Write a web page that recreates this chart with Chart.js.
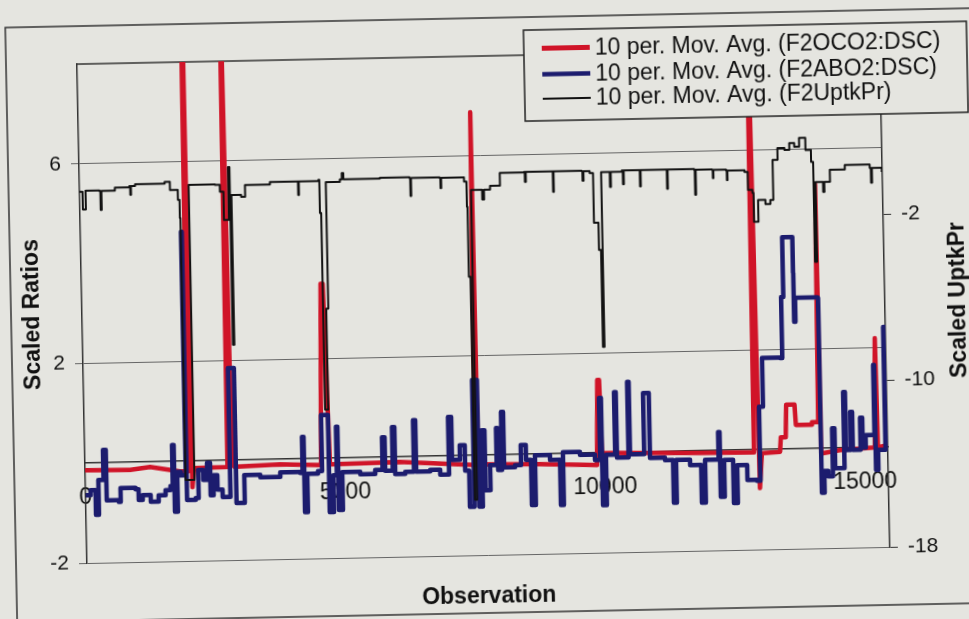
<!DOCTYPE html>
<html>
<head>
<meta charset="utf-8">
<script src="https://cdn.jsdelivr.net/npm/chart.js@4/dist/chart.umd.min.js"></script>
<style>
html,body{margin:0;padding:0;width:969px;height:619px;overflow:hidden;background:#e5e5e0;}
#wrap{position:absolute;left:-20px;top:-20px;width:1009px;height:659px;transform:rotate(-1.15deg);transform-origin:50% 50%;}
canvas{display:block;}
</style>
</head>
<body>
<div id="wrap"><canvas id="c" width="1009" height="659"></canvas></div>
<script>
// ---- tick labels ----
const obsTicks = [0, 5000, 10000, 15000];
const ratioTicks = [-2, 2, 6];
const uptkTicks = [-18, -10, -2];

// ---- series labels ----
const seriesNames = [
  '10 per. Mov. Avg. (F2OCO2:DSC)',
  '10 per. Mov. Avg. (F2ABO2:DSC)',
  '10 per. Mov. Avg. (F2UptkPr)'
];

// ---- F2OCO2:DSC moving average (left axis) ----
const oco2Obs = [0,866,1251,1822,1990,2030,2059,2097,2740,2770,2830,2870,3752,4540,4600,4640,4712,6061,7500,7545,7565,7610,8754,9850,9885,9920,9950,10870,11832,12874,12902,12975,13025,13375,13395,13490,13510,13670,13690,13990,14000,14120,14150,14165,14526,15200,15240,15260,15440];
const oco2Val = [-0.14,-0.15,-0.1,-0.2,-0.2,14,-0.52,-0.14,-0.13,11,0.0,-0.13,-0.1,-0.13,3.5,3.5,-0.12,-0.1,-0.19,6.88,-0.86,-0.18,-0.2,-0.24,1.46,1.46,0.0,-0.02,-0.04,-0.05,10,-0.77,-0.07,-0.05,0.24,0.24,0.89,0.89,0.48,0.48,0.53,0.53,5.3,-0.1,-0.04,0.0,2.19,0.0,0.04];

// ---- F2ABO2:DSC moving average (left axis) ----
const abo2Obs = [0,96,192,250,350,404,635,673,962,1020,1097,1251,1404,1539,1635,1680,1712,1770,1840,1935,1950,2116,2174,2270,2347,2405,2463,2540,2636,2719,2786,2880,2900,3001,3059,3367,3752,4137,4183,4214,4271,4479,4558,4673,4690,4772,4841,4868,4945,5291,5580,5722,5772,5918,5964,6157,6326,6368,6638,6830,7000,7061,7215,7311,7388,7477,7554,7570,7638,7696,7792,7919,7946,8021,8061,8273,8388,8485,8581,8658,8947,9139,9197,9524,9812,9912,9949,10024,10203,10236,10459,10488,10761,10838,10871,11159,11313,11371,11640,11852,11929,12190,12218,12295,12468,12545,12737,12921,12987,13064,13410,13454,13497,13689,13693,13697,13722,14145,14165,14218,14295,14384,14430,14610,14645,14738,14776,14926,14968,15026,15132,15198,15215,15261,15405,15440];
const abo2Val = [-0.64,-0.54,-1.04,-0.34,0.26,-0.75,-0.79,-0.51,-0.54,-0.76,-0.66,-0.8,-0.67,-0.57,-0.49,0.33,-1.01,-0.21,-0.28,4.6,-0.78,-0.74,-0.18,-0.38,-0.04,-0.69,-0.29,-0.58,-0.73,-0.73,1.85,1.85,-0.86,-0.86,-0.3,-0.35,-0.26,-0.28,0.44,-1.07,-0.3,-0.25,0.87,0.87,-1.08,-0.34,0.63,-1.04,-0.28,-0.33,-0.25,0.4,-0.27,0.6,-0.34,-0.3,0.73,-0.3,-0.27,-0.37,0.78,-0.08,0.21,-0.3,-1.03,1.51,1.51,-1.03,0.5,-0.7,-0.2,0.54,-0.3,0.86,-0.25,-0.21,0.19,-0.11,-1.02,-0.02,-0.12,-1.03,0.03,-0.03,-0.14,1.1,-1.05,-0.04,1.21,-0.1,1.41,-0.04,1.18,1.18,-0.12,-0.17,-1.03,-0.17,-0.28,-1.04,-0.18,0.37,-0.93,-0.19,-1.06,-0.3,-0.6,-0.62,0.86,1.84,1.83,3.05,4.25,4.25,3.53,2.55,3.03,3.02,-0.89,-0.45,-0.56,0.4,-0.4,1.12,-0.04,0.72,-0.04,0.6,0.0,0.25,0.25,1.65,-0.45,-0.05,2.41,0.14];

// ---- F2UptkPr moving average (right axis) ----
const uptkObs = [0,58,115,380,400,420,680,960,975,990,1070,1640,1740,1889,1920,1930,2100,2607,2700,2767,2863,2892,2920,3107,3184,3665,4190,4205,4220,4600,4616,4640,4700,4740,5012,5050,5080,5782,6350,6365,6380,6930,6945,6960,7400,7446,7457,7488,7530,7744,7780,7898,8090,8560,8571,8590,9100,9110,9125,9668,9680,9700,9820,9884,9970,10009,10040,10206,10225,10440,10457,10475,10770,10784,10800,11290,11304,11320,11830,11842,11860,12175,12188,12200,12445,12457,12470,12800,12860,12943,12964,13049,13190,13285,13343,13440,13575,13670,13765,13860,13980,14084,14122,14160,14305,14330,14440,14730,15209,15230,15250,15440];
const uptkVal = [-0.15,-1.0,-0.1,-0.12,-1.03,-0.12,0.02,0.09,-0.34,0.09,0.17,0.25,-0.14,-0.63,-1.5,-14.1,0.08,0.06,-0.28,-1.63,0.9,-7.65,-0.44,-0.54,0.03,0.15,0.15,-0.5,0.15,0.2,-1.39,-10.86,-6.0,0.09,0.2,0.51,0.2,0.24,0.2,-0.66,0.2,0.18,-0.31,0.18,-0.02,-1.24,-4.61,-15.33,-0.43,-0.9,-0.43,-0.25,0.36,0.38,-0.1,0.38,0.38,-0.6,0.38,0.36,-0.1,0.36,0.27,-2.13,-3.44,-8.1,0.3,-0.42,0.3,0.36,-0.3,0.36,0.36,-0.42,0.36,0.36,-0.56,0.36,0.32,-0.88,0.32,0.3,-0.1,0.3,0.25,-0.2,0.25,0.17,-0.7,-0.84,-2.24,-1.19,-1.4,-1.2,0.72,1.29,1.19,1.52,1.33,1.75,1.17,0.59,-4.22,-0.38,-0.87,-0.38,0.19,0.41,0.24,-0.47,0.24,0.04];

const rightTitle = 'Scaled UptkPr';
const PAPER = '#e5e5e0';
const FONT = "'Liberation Sans', Arial, Helvetica, sans-serif";
Chart.defaults.font.family = FONT;

function pts(xs, ys){ return xs.map((x,i)=>({x:x, y:ys[i]})); }

const paperPlugin = {
  id:'paper',
  beforeDraw(chart){
    const ctx = chart.ctx;
    ctx.save();
    ctx.fillStyle = PAPER;
    ctx.fillRect(0,0,chart.width,chart.height);
    ctx.strokeStyle = '#333'; ctx.lineWidth = 1.5;
    ctx.beginPath();
    ctx.moveTo(1020,38); ctx.lineTo(31,38); ctx.lineTo(31,633); ctx.lineTo(1020,633);
    ctx.stroke();
    ctx.restore();
  },
  beforeDatasetsDraw(chart){
    const a = chart.chartArea, ctx = chart.ctx;
    ctx.save();
    ctx.strokeStyle = '#333'; ctx.lineWidth = 1.5;
    ctx.beginPath(); ctx.moveTo(a.left, a.top); ctx.lineTo(a.right, a.top); ctx.stroke();
    ctx.restore();
  },
  afterDraw(chart){
    const ctx = chart.ctx;
    ctx.save();
    ctx.translate(978.5, 329.5);
    ctx.rotate(-Math.PI/2);
    ctx.fillStyle = '#111';
    ctx.font = 'bold 23px ' + FONT;
    ctx.textAlign = 'center'; ctx.textBaseline = 'middle';
    ctx.fillText(rightTitle, 0, 0);
    ctx.restore();
    ctx.save();
    const L = 549, T = 51, R = 992, B = 142;
    ctx.fillStyle = PAPER; ctx.fillRect(L, T, R-L, B-T);
    ctx.strokeStyle = '#222'; ctx.lineWidth = 1.5; ctx.strokeRect(L, T, R-L, B-T);
    const rows = [69.5, 95.5, 120];
    const widths = [5, 4.5, 2];
    chart.data.datasets.forEach((ds, i) => {
      ctx.strokeStyle = ds.borderColor; ctx.lineWidth = widths[i]; ctx.lineCap = 'butt';
      ctx.beginPath(); ctx.moveTo(567, rows[i]); ctx.lineTo(615, rows[i]); ctx.stroke();
      ctx.fillStyle = '#111'; ctx.font = '23px ' + FONT;
      ctx.textAlign = 'left'; ctx.textBaseline = 'middle';
      ctx.fillText(ds.label, 620, rows[i] + 1);
    });
    ctx.restore();
  }
};

new Chart(document.getElementById('c'), {
  type: 'line',
  data: {
    datasets: [
      { label: seriesNames[0], data: pts(oco2Obs, oco2Val), yAxisID:'y', borderColor:'#d01428', borderWidth:4.5, order:3 },
      { label: seriesNames[1], data: pts(abo2Obs, abo2Val), yAxisID:'y', borderColor:'#1c1c6e', borderWidth:4.5, order:2, stepped:true },
      { label: seriesNames[2], data: pts(uptkObs, uptkVal), yAxisID:'y1', borderColor:'#111111', borderWidth:2, order:1, stepped:true }
    ]
  },
  options: {
    responsive:false, animation:false, devicePixelRatio:1,
    elements:{ point:{radius:0}, line:{tension:0, borderJoinStyle:'round', fill:false} },
    layout:{ padding:{ left:0, right:0, top:76, bottom:84 } },
    plugins:{ legend:{display:false}, tooltip:{enabled:false} },
    scales:{
      x:{
        type:'linear', min:0, max:15450, position:{ y:0 },
        afterBuildTicks: s => { s.ticks = obsTicks.map(v => ({value:v})); },
        ticks:{ padding:21, font:{size:23}, color:'#111', maxRotation:0, autoSkip:false, callback: v => String(v) },
        grid:{ display:false, drawTicks:false },
        border:{ display:true, color:'#333', width:1.5 },
        title:{ display:true, text:'Observation', font:{size:23, weight:'bold'}, color:'#111', padding:{top:58, bottom:0} }
      },
      y:{
        type:'linear', position:'left', min:-2, max:8,
        afterBuildTicks: s => { s.ticks = ratioTicks.map(v => ({value:v})); },
        afterFit: s => { s.width = 102; },
        ticks:{ padding:10, font:{size:21}, color:'#111' },
        grid:{ color:'#666', lineWidth:1, tickLength:8, drawOnChartArea:true },
        border:{ display:true, color:'#333', width:1.5 },
        title:{ display:true, text:'Scaled Ratios', font:{size:23, weight:'bold'}, color:'#111', padding:{top:39, bottom:0} }
      },
      y1:{
        type:'linear', position:'right', min:-18, max:6,
        afterBuildTicks: s => { s.ticks = uptkTicks.map(v => ({value:v})); },
        afterFit: s => { s.width = 104; },
        ticks:{ padding:10, font:{size:21}, color:'#111' },
        grid:{ drawOnChartArea:false, color:'#333', tickLength:8 },
        border:{ display:true, color:'#333', width:1.5 }
      }
    }
  },
  plugins:[paperPlugin]
});
</script>
</body>
</html>
